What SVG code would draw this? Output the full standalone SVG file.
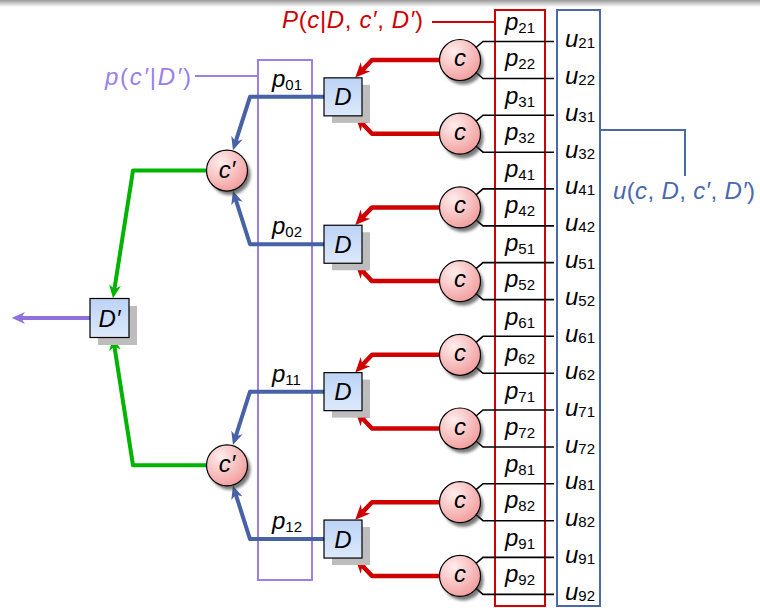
<svg xmlns="http://www.w3.org/2000/svg" xmlns:xlink="http://www.w3.org/1999/xlink" width="760" height="608" viewBox="0 0 760 608">
<defs>
<style>
text{font-family:"Liberation Sans",Arial,sans-serif;font-size:24px;fill:#000}
.i{font-style:italic}
.s{font-size:15px;font-style:normal}
.nodebox{fill:url(#gD);stroke:#000;stroke-width:1.2}
.shadow{fill:#bdbdbd}
.circ{fill:url(#gC);stroke:#000;stroke-width:1.2}
.csh{fill:#333;opacity:0.65;filter:url(#bl)}
.red{fill:none;stroke:#d00000;stroke-width:4.5;stroke-linejoin:round}
.blue{fill:none;stroke:#4862a6;stroke-width:4;stroke-linejoin:round}
.green{fill:none;stroke:#00b400;stroke-width:4;stroke-linejoin:round}
.purp{fill:none;stroke:#9070dc;stroke-width:4}
.blk{fill:none;stroke:#000;stroke-width:1.6}
</style>
<linearGradient id="top" x1="0" y1="0" x2="0" y2="1"><stop offset="0" stop-color="#9a9a9a"/><stop offset="1" stop-color="#ffffff"/></linearGradient>
<linearGradient id="gD" x1="0" y1="0" x2="0" y2="1"><stop offset="0" stop-color="#bcd3f6"/><stop offset="1" stop-color="#dde9fb"/></linearGradient>
<radialGradient id="gC" cx="0.35" cy="0.3" r="0.75"><stop offset="0" stop-color="#ffeeee"/><stop offset="1" stop-color="#f29c9c"/></radialGradient>
<filter id="bl" x="-30%" y="-30%" width="160%" height="160%"><feGaussianBlur stdDeviation="1.8"/></filter>
<marker id="mR" viewBox="0 0 10 10" refX="5" refY="5" markerWidth="3.3" markerHeight="3.3" orient="auto" markerUnits="strokeWidth"><path d="M0,0.5 L10,5 L0,9.5 L3,5 z" fill="#d00000"/></marker>
<marker id="mB" viewBox="0 0 10 10" refX="5" refY="5" markerWidth="3.3" markerHeight="3.3" orient="auto" markerUnits="strokeWidth"><path d="M0,0.5 L10,5 L0,9.5 L3,5 z" fill="#4862a6"/></marker>
<marker id="mG" viewBox="0 0 10 10" refX="5" refY="5" markerWidth="3.3" markerHeight="3.3" orient="auto" markerUnits="strokeWidth"><path d="M0,0.5 L10,5 L0,9.5 L3,5 z" fill="#00b400"/></marker>
<marker id="mP" viewBox="0 0 10 10" refX="5" refY="5" markerWidth="3.3" markerHeight="3.3" orient="auto" markerUnits="strokeWidth"><path d="M0,0.5 L10,5 L0,9.5 L3,5 z" fill="#9070dc"/></marker>
<path id="pair" d="M476,-12.5 L483,-18.5 L554,-18.5 M476,12.5 L483,18.5 L554,18.5"/>
<g id="Dnode"><rect class="shadow" x="-11" y="-12" width="38" height="38"/><rect class="nodebox" x="-19" y="-19" width="38" height="38"/><text class="i" x="0" y="8.5" text-anchor="middle">D</text></g>
<g id="cnode"><circle class="csh" cx="3" cy="4" r="20.5"/><circle class="circ" r="20.5"/><text class="i" x="0" y="6" text-anchor="middle">c</text></g>
<g id="cpnode"><circle class="csh" cx="3" cy="4" r="20.5"/><circle class="circ" r="20.5"/><text class="i" x="0" y="7" text-anchor="middle">c′</text></g>
</defs>
<rect x="0" y="0" width="760" height="7" fill="url(#top)"/>

<g id="tables">
<rect x="495" y="10" width="50" height="596" fill="none" stroke="#d00000" stroke-width="2"/>
<rect x="557" y="10" width="43" height="596" fill="none" stroke="#4a68ac" stroke-width="2"/>
<rect x="258" y="60" width="54" height="520" fill="none" stroke="#9a80e8" stroke-width="2"/>
</g>

<g id="connectors">
<g class="blk">
<use xlink:href="#pair" y="60"/>
<use xlink:href="#pair" y="133.7"/>
<use xlink:href="#pair" y="207.4"/>
<use xlink:href="#pair" y="281.1"/>
<use xlink:href="#pair" y="354.8"/>
<use xlink:href="#pair" y="428.5"/>
<use xlink:href="#pair" y="502.2"/>
<use xlink:href="#pair" y="575.9"/>
</g>
<g class="red" marker-end="url(#mR)">
<path d="M440,60 L372,60 L360.4,72.2"/>
<path d="M440,133.7 L372,133.7 L360.4,121.5"/>
<path d="M440,207.4 L372,207.4 L360.4,219.6"/>
<path d="M440,281.1 L372,281.1 L360.4,268.9"/>
<path d="M440,354.8 L372,354.8 L360.4,367"/>
<path d="M440,428.5 L372,428.5 L360.4,416.3"/>
<path d="M440,502.2 L372,502.2 L360.4,514.4"/>
<path d="M440,575.9 L372,575.9 L360.4,563.7"/>
</g>
<g class="blue" marker-end="url(#mB)">
<path d="M324,96.85 L250,96.85 L234.95,143.95"/>
<path d="M324,244.25 L250,244.25 L234.95,197.15"/>
<path d="M324,391.65 L250,391.65 L234.95,438.75"/>
<path d="M324,539.05 L250,539.05 L234.95,491.95"/>
</g>
<g class="green" marker-end="url(#mG)">
<path d="M207,170.55 L133,170.55 L114,291.7"/>
<path d="M207,465.35 L133,465.35 L114,343.8"/>
</g>
<path class="purp" marker-end="url(#mP)" d="M90,317.95 L18.4,317.95"/>
<path d="M432,22 L495,22" stroke="#d00000" stroke-width="1.8" fill="none"/>
<path d="M195,76 L258,76" stroke="#9a80e8" stroke-width="1.8" fill="none"/>
<path d="M600,130 L685,130 L685,176" stroke="#4a68ac" stroke-width="2" fill="none"/>
</g>

<g id="c-nodes">
<use id="c1" xlink:href="#cnode" x="460" y="60"/>
<use id="c2" xlink:href="#cnode" x="460" y="133.7"/>
<use id="c3" xlink:href="#cnode" x="460" y="207.4"/>
<use id="c4" xlink:href="#cnode" x="460" y="281.1"/>
<use id="c5" xlink:href="#cnode" x="460" y="354.8"/>
<use id="c6" xlink:href="#cnode" x="460" y="428.5"/>
<use id="c7" xlink:href="#cnode" x="460" y="502.2"/>
<use id="c8" xlink:href="#cnode" x="460" y="575.9"/>
</g>
<g id="D-nodes">
<use id="D1" xlink:href="#Dnode" x="343" y="96.85"/>
<use id="D2" xlink:href="#Dnode" x="343" y="244.25"/>
<use id="D3" xlink:href="#Dnode" x="343" y="391.65"/>
<use id="D4" xlink:href="#Dnode" x="343" y="539.05"/>
</g>
<g id="cp-nodes">
<use id="cp1" xlink:href="#cpnode" x="227" y="170.55"/>
<use id="cp2" xlink:href="#cpnode" x="227" y="465.35"/>
</g>
<g id="Dp-node">
<rect class="shadow" x="98" y="306" width="39" height="39"/>
<rect class="nodebox" x="90" y="298.5" width="39" height="39"/>
<text class="i" x="109.5" y="326.5" text-anchor="middle">D′</text>
</g>

<g id="p-labels">
<text x="272" y="87"><tspan class="i">p</tspan><tspan class="s" dy="3">01</tspan></text>
<text x="272" y="234.4"><tspan class="i">p</tspan><tspan class="s" dy="3">02</tspan></text>
<text x="272" y="381.8"><tspan class="i">p</tspan><tspan class="s" dy="3">11</tspan></text>
<text x="272" y="529.2"><tspan class="i">p</tspan><tspan class="s" dy="3">12</tspan></text>

<text x="505" y="30"><tspan class="i">p</tspan><tspan class="s" dy="3">21</tspan></text>
<text x="505" y="66"><tspan class="i">p</tspan><tspan class="s" dy="3">22</tspan></text>
<text x="505" y="103.7"><tspan class="i">p</tspan><tspan class="s" dy="3">31</tspan></text>
<text x="505" y="139.7"><tspan class="i">p</tspan><tspan class="s" dy="3">32</tspan></text>
<text x="505" y="177.4"><tspan class="i">p</tspan><tspan class="s" dy="3">41</tspan></text>
<text x="505" y="213.4"><tspan class="i">p</tspan><tspan class="s" dy="3">42</tspan></text>
<text x="505" y="251.1"><tspan class="i">p</tspan><tspan class="s" dy="3">51</tspan></text>
<text x="505" y="287.1"><tspan class="i">p</tspan><tspan class="s" dy="3">52</tspan></text>
<text x="505" y="324.8"><tspan class="i">p</tspan><tspan class="s" dy="3">61</tspan></text>
<text x="505" y="360.8"><tspan class="i">p</tspan><tspan class="s" dy="3">62</tspan></text>
<text x="505" y="398.5"><tspan class="i">p</tspan><tspan class="s" dy="3">71</tspan></text>
<text x="505" y="434.5"><tspan class="i">p</tspan><tspan class="s" dy="3">72</tspan></text>
<text x="505" y="472.2"><tspan class="i">p</tspan><tspan class="s" dy="3">81</tspan></text>
<text x="505" y="508.2"><tspan class="i">p</tspan><tspan class="s" dy="3">82</tspan></text>
<text x="505" y="545.9"><tspan class="i">p</tspan><tspan class="s" dy="3">91</tspan></text>
<text x="505" y="581.9"><tspan class="i">p</tspan><tspan class="s" dy="3">92</tspan></text>
</g>
<g id="u-labels">
<text x="565" y="47"><tspan class="i">u</tspan><tspan class="s" dy="1">21</tspan></text>
<text x="565" y="84"><tspan class="i">u</tspan><tspan class="s" dy="1">22</tspan></text>
<text x="565" y="120.7"><tspan class="i">u</tspan><tspan class="s" dy="1">31</tspan></text>
<text x="565" y="157.7"><tspan class="i">u</tspan><tspan class="s" dy="1">32</tspan></text>
<text x="565" y="194.4"><tspan class="i">u</tspan><tspan class="s" dy="1">41</tspan></text>
<text x="565" y="231.4"><tspan class="i">u</tspan><tspan class="s" dy="1">42</tspan></text>
<text x="565" y="268.1"><tspan class="i">u</tspan><tspan class="s" dy="1">51</tspan></text>
<text x="565" y="305.1"><tspan class="i">u</tspan><tspan class="s" dy="1">52</tspan></text>
<text x="565" y="341.8"><tspan class="i">u</tspan><tspan class="s" dy="1">61</tspan></text>
<text x="565" y="378.8"><tspan class="i">u</tspan><tspan class="s" dy="1">62</tspan></text>
<text x="565" y="415.5"><tspan class="i">u</tspan><tspan class="s" dy="1">71</tspan></text>
<text x="565" y="452.5"><tspan class="i">u</tspan><tspan class="s" dy="1">72</tspan></text>
<text x="565" y="489.2"><tspan class="i">u</tspan><tspan class="s" dy="1">81</tspan></text>
<text x="565" y="526.2"><tspan class="i">u</tspan><tspan class="s" dy="1">82</tspan></text>
<text x="565" y="562.9"><tspan class="i">u</tspan><tspan class="s" dy="1">91</tspan></text>
<text x="565" y="599.9"><tspan class="i">u</tspan><tspan class="s" dy="1">92</tspan></text>
</g>

<g id="annotations">
<text x="282" y="28" textLength="141" lengthAdjust="spacing" style="fill:#d00000"><tspan class="i">P</tspan>(<tspan class="i">c</tspan>|<tspan class="i">D</tspan>, <tspan class="i">c′</tspan>, <tspan class="i">D′</tspan>)</text>
<text x="105" y="85" textLength="86" lengthAdjust="spacing" style="fill:#9a80e8"><tspan class="i">p</tspan>(<tspan class="i">c′</tspan>|<tspan class="i">D′</tspan>)</text>
<text x="613" y="199" textLength="142" lengthAdjust="spacing" style="fill:#4a68ac"><tspan class="i">u</tspan>(<tspan class="i">c</tspan>, <tspan class="i">D</tspan>, <tspan class="i">c′</tspan>, <tspan class="i">D′</tspan>)</text>
</g>
</svg>
